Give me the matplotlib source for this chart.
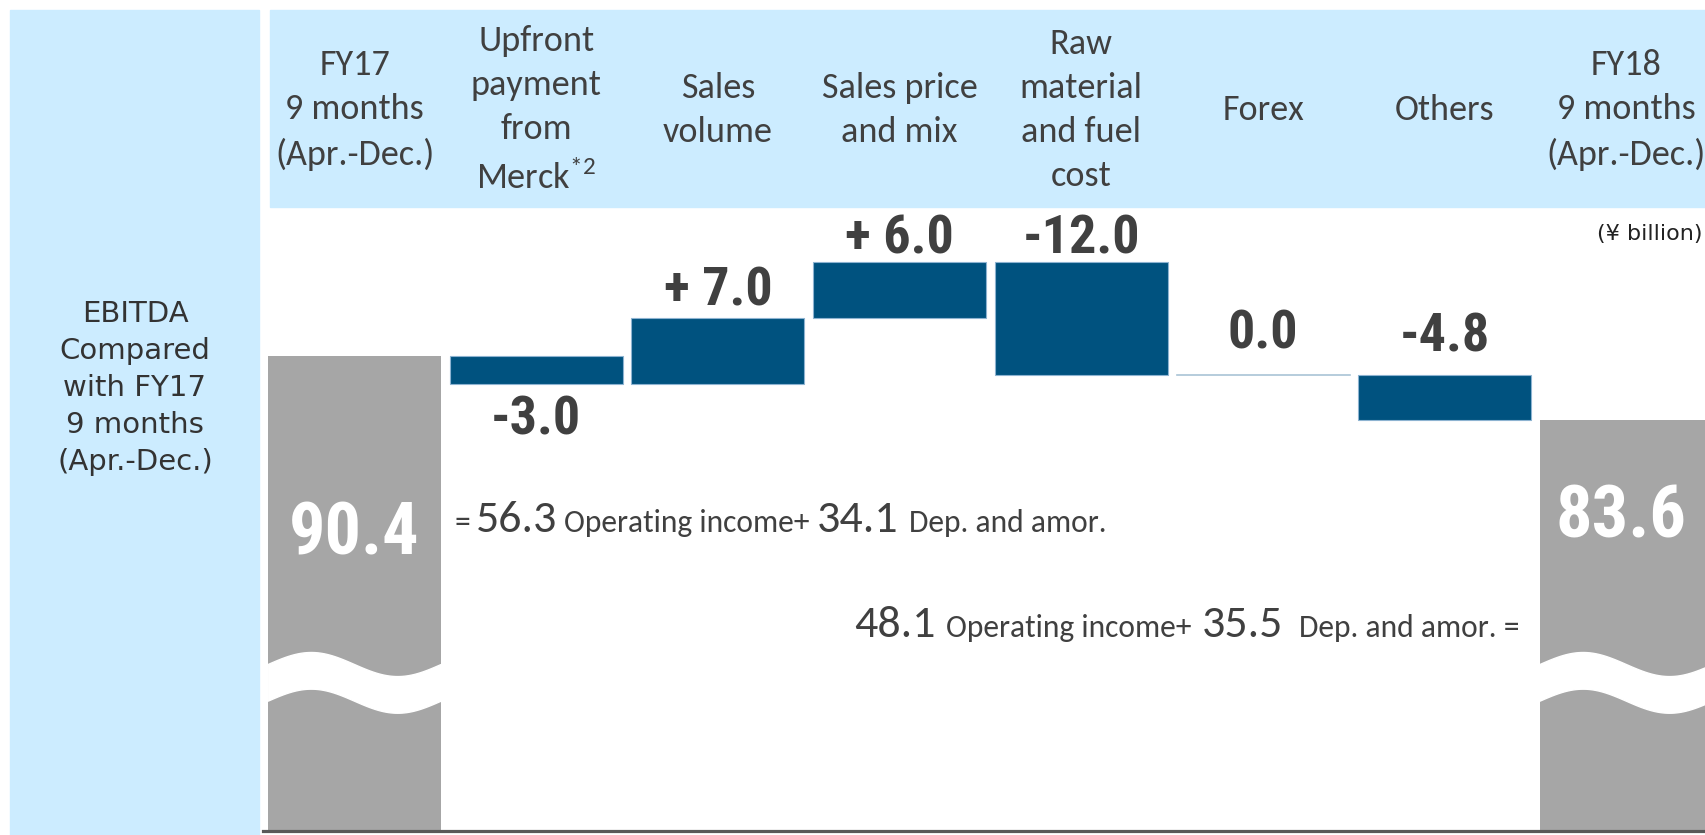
import numpy as np
import matplotlib
matplotlib.use("Agg")
import matplotlib.pyplot as plt
from matplotlib.patches import Rectangle, Polygon
from matplotlib import transforms

# data
headers = ["FY17\n9 months\n(Apr.-Dec.)",
           "Upfront\npayment\nfrom\nMerck$^{\\mathrm{*2}}$",
           "Sales\nvolume",
           "Sales price\nand mix",
           "Raw\nmaterial\nand fuel\ncost",
           "Forex",
           "Others",
           "FY18\n9 months\n(Apr.-Dec.)"]
fy17_total = 90.4
fy18_total = 83.6
deltas = [-3.0, 7.0, 6.0, -12.0, 0.0, -4.8]
delta_labels = ["-3.0", "+ 7.0", "+ 6.0", "-12.0", "0.0", "-4.8"]
line1 = [("=", "s"), ("56.3", "b"), ("Operating income+", "s"), ("34.1", "b"), ("Dep. and amor.", "s")]
line2 = [("48.1", "b"), ("Operating income+", "s"), ("35.5", "b"), ("Dep. and amor. =", "s")]

# styles
LBLUE = "#CCECFF"
BLUE = "#00527F"
GRAY = "#A6A6A6"
TXT = "#404040"
NUMFONT = ["Roboto Condensed", "DejaVu Sans"]
HDRFONT = ["Carlito", "DejaVu Sans"]

plt.rcParams["mathtext.fontset"] = "custom"
plt.rcParams["mathtext.rm"] = "Carlito"

W, H = 1706, 835
fig = plt.figure(figsize=(W / 100, H / 100), dpi=100)

def fx(px):
    return px / W

def fy(py):
    return 1 - py / H

# background panels
fig.patches.append(Rectangle((fx(10), 0), fx(259) - fx(10), fy(10), transform=fig.transFigure,
                             color=LBLUE, zorder=-1))
fig.patches.append(Rectangle((fx(270), fy(207)), 1 - fx(270), fy(10) - fy(207), transform=fig.transFigure,
                             color=LBLUE, zorder=-1))

ax = fig.add_axes([fx(263), fy(831), 1 - fx(263), fy(207) - fy(831)])
ax.patch.set_alpha(0)
ymin, ymax = 39.9, 106.25
ax.set_ylim(ymin, ymax)
ax.set_xlim(-0.504, 7.438)
for s in ["top", "left", "right"]:
    ax.spines[s].set_visible(False)
ax.spines["bottom"].set_color("#595959")
ax.spines["bottom"].set_linewidth(2.3)
ax.set_xticks([])
ax.set_yticks([])

bw = 0.952
x = np.arange(len(headers))

# totals
ax.bar(x[0], fy17_total - ymin, bottom=ymin, width=bw, color=GRAY, zorder=2)
ax.bar(x[-1], fy18_total - ymin, bottom=ymin, width=bw, color=GRAY, zorder=2)

# break waves on the total bars
for xi in (x[0], x[-1]):
    t = np.linspace(0, 1, 100)
    xs = xi - bw / 2 + t * bw
    top = 57.6 + 1.28 * np.sin(2 * np.pi * t)
    bot = top - 3.9
    poly = np.column_stack([np.r_[xs, xs[::-1]], np.r_[top, bot[::-1]]])
    ax.add_patch(Polygon(poly, closed=True, color="white", zorder=3))

# deltas
running = fy17_total
offsets_px = [10, 13, 9, 9, 26, 23]
for i, d in enumerate(deltas):
    xi = x[i + 1]
    lo, hi = min(running, running + d), max(running, running + d)
    if d == 0:
        ax.plot([xi - bw / 2, xi + bw / 2], [running, running], color="#A9C4D6", lw=1.2, zorder=2)
    else:
        ax.bar(xi, hi - lo, bottom=lo, width=bw, color=BLUE, edgecolor="#8DB3D1", linewidth=0.8, zorder=2)
    if i == 0:
        ax.annotate(delta_labels[i], (xi, lo), xytext=(0, -offsets_px[i] * 0.72), textcoords="offset points",
                    ha="center", va="top", fontsize=39, fontweight="bold", family=NUMFONT, color=TXT)
    else:
        ax.annotate(delta_labels[i], (xi, hi), xytext=(0, offsets_px[i] * 0.72), textcoords="offset points",
                    ha="center", va="baseline", fontsize=39, fontweight="bold", family=NUMFONT, color=TXT)
    running += d

# big total labels
ax.text(x[0], 69.35, "90.4", ha="center", va="baseline", fontsize=52, fontweight="bold",
        family=NUMFONT, color="white", zorder=4)
ax.text(x[-1] - 0.03, 71.16, "83.6", ha="center", va="baseline", fontsize=52, fontweight="bold",
        family=NUMFONT, color="white", zorder=4)

# header labels
tr = transforms.blended_transform_factory(ax.transData, fig.transFigure)
for xi, lab in zip(x, headers):
    ax.text(xi, fy(110), lab, transform=tr, ha="center", va="center", fontsize=26,
            family=HDRFONT, color=TXT, linespacing=1.46, clip_on=False)

fig.text(fx(135), fy(388), "EBITDA\nCompared\nwith FY17\n9 months\n(Apr.-Dec.)", ha="center", va="center",
         fontsize=21, family="DejaVu Sans", color="#333333", linespacing=1.42)

fig.text(fx(1703), fy(234), "(¥ billion)", ha="right", va="center", fontsize=16,
         family="DejaVu Sans", color="#222222")

# formula lines
renderer = fig.canvas.get_renderer()

def write_line(pieces, x0, base, gaps):
    cur = x0
    for (s, kind), g in zip(pieces, gaps):
        size = 33 if kind == "b" else 22.7
        t = fig.text(fx(cur), fy(base), s, ha="left", va="baseline", fontsize=size,
                     family=HDRFONT, color=TXT)
        bb = t.get_window_extent(renderer)
        cur = bb.x1 + g

write_line(line1, 455, 532, [5, 7, 7, 11, 0])
write_line(line2, 854, 637, [11, 10, 16, 0])

fig.savefig("out.png", dpi=100)
